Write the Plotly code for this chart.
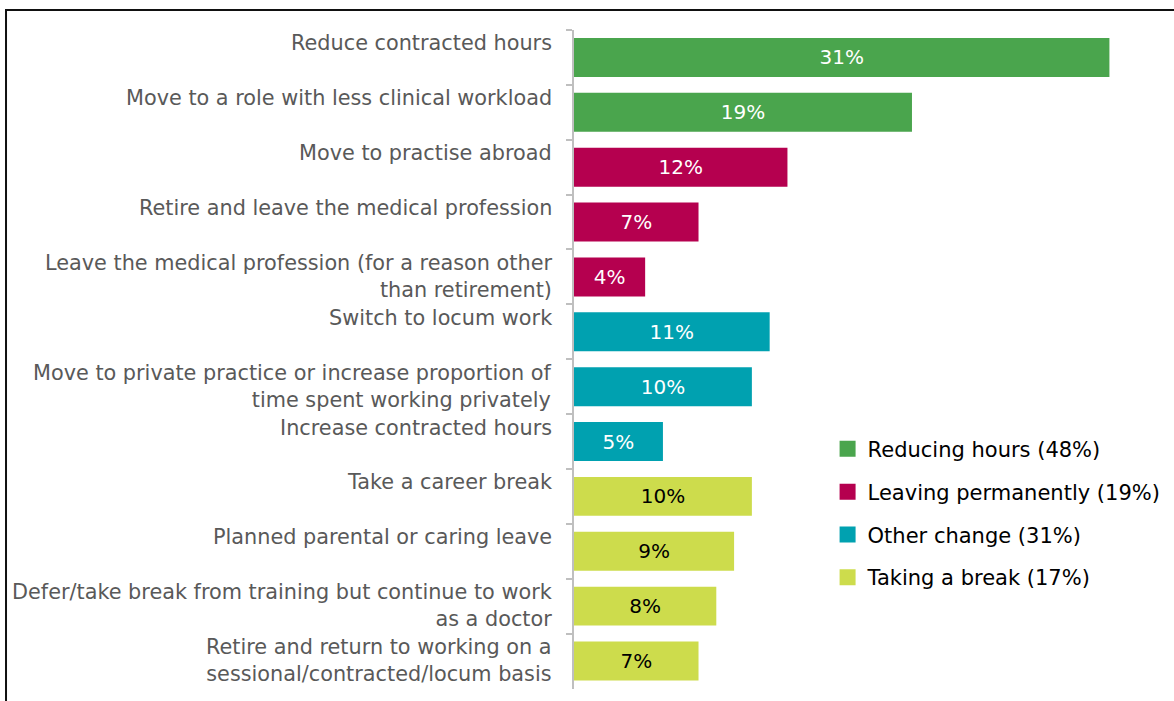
import plotly.graph_objects as go

categories = [
    "Reduce contracted hours",
    "Move to a role with less clinical workload",
    "Move to practise abroad",
    "Retire and leave the medical profession",
    "Leave the medical profession (for a reason other<br>than retirement)",
    "Switch to locum work",
    "Move to private practice or increase proportion of<br>time spent working privately",
    "Increase contracted hours",
    "Take a career break",
    "Planned parental or caring leave",
    "Defer/take break from training but continue to work<br>as a doctor",
    "Retire and return to working on a<br>sessional/contracted/locum basis",
]
values = [30.1, 19.0, 12.0, 7.0, 4.0, 11.0, 10.0, 5.0, 10.0, 9.0, 8.0, 7.0]
value_labels = ["31%", "19%", "12%", "7%", "4%", "11%", "10%", "5%", "10%", "9%", "8%", "7%"]
groups = ["Reducing hours", "Reducing hours",
          "Leaving permanently", "Leaving permanently", "Leaving permanently",
          "Other change", "Other change", "Other change",
          "Taking a break", "Taking a break", "Taking a break", "Taking a break"]
group_names = ["Reducing hours", "Leaving permanently", "Other change", "Taking a break"]
group_legend = ["Reducing hours (48%)", "Leaving permanently (19%)",
                "Other change (31%)", "Taking a break (17%)"]
group_colors = {"Reducing hours": "#4aa54d", "Leaving permanently": "#b5004f",
                "Other change": "#00a1b0", "Taking a break": "#cddc4c"}
group_text = {"Reducing hours": "white", "Leaving permanently": "white",
              "Other change": "white", "Taking a break": "black"}

FONT = "DejaVu Sans, Verdana, sans-serif"

fig = go.Figure()
fig.add_trace(go.Bar(
    y=categories, x=values, orientation="h",
    marker=dict(color=[group_colors[g] for g in groups], line=dict(width=0)),
    width=0.71,
    text=value_labels, textposition="inside", insidetextanchor="middle",
    textangle=0, constraintext="none",
    textfont=dict(family=FONT, size=20, color=[group_text[g] for g in groups]),
    showlegend=False, hoverinfo="skip",
))
for name, lab in zip(group_names, group_legend):
    fig.add_trace(go.Scatter(
        x=[None], y=[None], mode="markers", name=lab, legendgroup=name,
        marker=dict(symbol="square", size=16, color=group_colors[name]),
    ))

for cat in categories:
    fig.add_annotation(
        x=0, xref="paper", xanchor="right", xshift=-20,
        y=cat, yref="y", yanchor="top", yshift=28,
        text=cat, showarrow=False, align="right",
        font=dict(family=FONT, size=20.8, color="#595959"),
    )

# outer frame
fig.add_shape(type="rect", xref="paper", yref="paper",
              x0=-0.9676, x1=1.2, y0=-0.2, y1=1.0304,
              line=dict(color="#111111", width=2), fillcolor="rgba(0,0,0,0)")

fig.update_layout(
    width=1174, height=701,
    margin=dict(l=574, r=13, t=30, b=12, autoexpand=False),
    paper_bgcolor="white", plot_bgcolor="white",
    font=dict(family=FONT, size=20),
    xaxis=dict(range=[0, 33], visible=False, fixedrange=True),
    yaxis=dict(categoryorder="array", categoryarray=categories, autorange="reversed",
               showticklabels=False, showline=True, linecolor="#bfbfbf", linewidth=2,
               ticks="outside", ticklen=6, tickcolor="#bfbfbf", tickwidth=2,
               tickson="boundaries", showgrid=False, zeroline=False, fixedrange=True),
    legend=dict(x=0.432, y=0.395, xanchor="left", yanchor="top",
                font=dict(family=FONT, size=21, color="#000000"),
                tracegroupgap=12.5, bgcolor="rgba(0,0,0,0)"),
    showlegend=True,
)

fig.write_html("out.html", config={"displayModeBar": False},
               post_script="document.body.style.margin='0';document.body.style.padding='0';")
